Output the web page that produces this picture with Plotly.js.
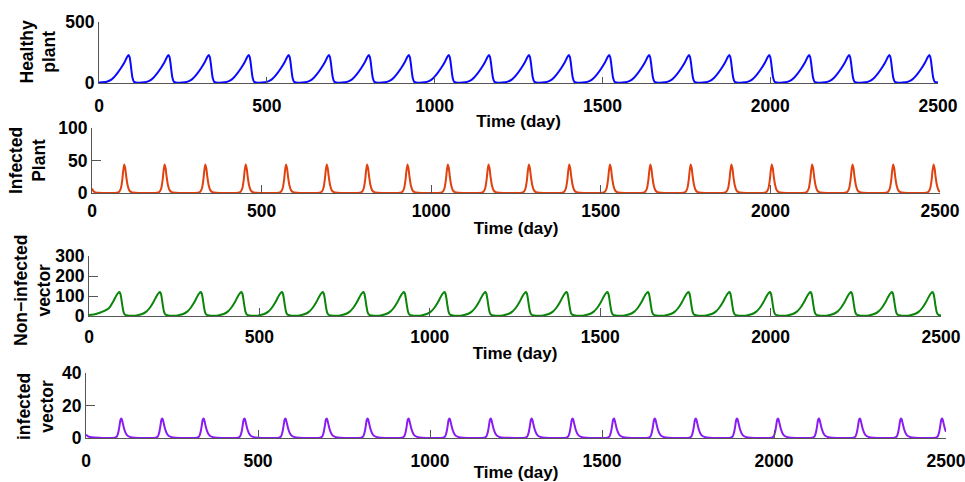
<!DOCTYPE html>
<html>
<head>
<meta charset="utf-8">
<script src="https://cdn.plot.ly/plotly-3.0.1.min.js"></script>
<style>html,body{margin:0;padding:0;background:#fff;}#chart{width:965px;height:482px;}</style>
</head>
<body>
<div id="chart"></div>
<script>
// ---- Data ----
const xTicks = [0, 500, 1000, 1500, 2000, 2500];
const yTicksHealthy = [0, 500];
const yTicksInfPlant = [0, 50, 100];
const yTicksNonInfVec = [0, 100, 200, 300];
const yTicksInfVec = [0, 20, 40];

const healthyT = [
0,23,38,53,66,76,83,88,91,94,97,100,104,113,
127,142,157,172,185,195,202,207,210,213,216,219,223,232,
247,262,277,292,305,315,322,327,330,333,336,339,343,352,
366,381,396,411,424,434,441,446,449,452,455,458,462,471,
485,500,515,530,543,553,560,565,568,571,574,577,581,590,
605,620,635,650,663,673,680,685,688,691,694,697,701,710,
724,739,754,769,782,792,799,804,807,810,813,816,820,829,
843,858,873,888,901,911,918,923,926,929,932,935,939,948,
962,977,992,1007,1020,1030,1037,1042,1045,1048,1051,1054,1058,1067,
1082,1097,1112,1127,1140,1150,1157,1162,1165,1168,1171,1174,1178,1187,
1201,1216,1231,1246,1259,1269,1276,1281,1284,1287,1290,1293,1297,1306,
1320,1335,1350,1365,1378,1388,1395,1400,1403,1406,1409,1412,1416,1425,
1440,1455,1470,1485,1498,1508,1515,1520,1523,1526,1529,1532,1536,1545,
1559,1574,1589,1604,1617,1627,1634,1639,1642,1645,1648,1651,1655,1664,
1678,1693,1708,1723,1736,1746,1753,1758,1761,1764,1767,1770,1774,1783,
1798,1813,1828,1843,1856,1866,1873,1878,1881,1884,1887,1890,1894,1903,
1917,1932,1947,1962,1975,1985,1992,1997,2000,2003,2006,2009,2013,2022,
2036,2051,2066,2081,2094,2104,2111,2116,2119,2122,2125,2128,2132,2141,
2155,2170,2185,2200,2213,2223,2230,2235,2238,2241,2244,2247,2251,2260,
2275,2290,2305,2320,2333,2343,2350,2355,2358,2361,2364,2367,2371,2380,
2394,2409,2424,2439,2452,2462,2469,2474,2477,2480,2483,2486,2490,2500
];
const healthyY = [
5,10,30,75,125,170,210,230,215,165,95,40,10,3,
4,9,30,75,125,170,210,230,215,165,95,40,10,3,
4,9,30,75,125,170,210,230,215,165,95,40,10,3,
4,9,30,75,125,170,210,230,215,165,95,40,10,3,
4,9,30,75,125,170,210,230,215,165,95,40,10,3,
4,9,30,75,125,170,210,230,215,165,95,40,10,3,
4,9,30,75,125,170,210,230,215,165,95,40,10,3,
4,9,30,75,125,170,210,230,215,165,95,40,10,3,
4,9,30,75,125,170,210,230,215,165,95,40,10,3,
4,9,30,75,125,170,210,230,215,165,95,40,10,3,
4,9,30,75,125,170,210,230,215,165,95,40,10,3,
4,9,30,75,125,170,210,230,215,165,95,40,10,3,
4,9,30,75,125,170,210,230,215,165,95,40,10,3,
4,9,30,75,125,170,210,230,215,165,95,40,10,3,
4,9,30,75,125,170,210,230,215,165,95,40,10,3,
4,9,30,75,125,170,210,230,215,165,95,40,10,3,
4,9,30,75,125,170,210,230,215,165,95,40,10,3,
4,9,30,75,125,170,210,230,215,165,95,40,10,3,
4,9,30,75,125,170,210,230,215,165,95,40,10,3,
4,9,30,75,125,170,210,230,215,165,95,40,10,3,
4,9,30,75,125,170,210,230,215,165,95,40,10,3
];

const infPlantT = [
0,4,10,20,
73,80,85,89,92,95,98,101,105,110,116,127,
192,199,204,208,211,214,217,220,224,229,235,246,
312,319,324,328,331,334,337,340,344,349,355,366,
431,438,443,447,450,453,456,459,463,468,474,485,
550,557,562,566,569,572,575,578,582,587,593,604,
670,677,682,686,689,692,695,698,702,707,713,724,
789,796,801,805,808,811,814,817,821,826,832,843,
908,915,920,924,927,930,933,936,940,945,951,962,
1027,1034,1039,1043,1046,1049,1052,1055,1059,1064,1070,1081,
1147,1154,1159,1163,1166,1169,1172,1175,1179,1184,1190,1201,
1266,1273,1278,1282,1285,1288,1291,1294,1298,1303,1309,1320,
1385,1392,1397,1401,1404,1407,1410,1413,1417,1422,1428,1439,
1505,1512,1517,1521,1524,1527,1530,1533,1537,1542,1548,1559,
1624,1631,1636,1640,1643,1646,1649,1652,1656,1661,1667,1678,
1743,1750,1755,1759,1762,1765,1768,1771,1775,1780,1786,1797,
1863,1870,1875,1879,1882,1885,1888,1891,1895,1900,1906,1917,
1982,1989,1994,1998,2001,2004,2007,2010,2014,2019,2025,2036,
2101,2108,2113,2117,2120,2123,2126,2129,2133,2138,2144,2155,
2220,2227,2232,2236,2239,2242,2245,2248,2252,2257,2263,2274,
2340,2347,2352,2356,2359,2362,2365,2368,2372,2377,2383,2394,
2459,2466,2471,2475,2478,2481,2484,2487,2491,2496,2500
];
const infPlantY = [
7,3,1,0.3,
0.3,2,7,19,34,44,38,25,12,4,1.2,0.3,
0.3,2,7,19,34,44,38,25,12,4,1.2,0.3,
0.3,2,7,19,34,44,38,25,12,4,1.2,0.3,
0.3,2,7,19,34,44,38,25,12,4,1.2,0.3,
0.3,2,7,19,34,44,38,25,12,4,1.2,0.3,
0.3,2,7,19,34,44,38,25,12,4,1.2,0.3,
0.3,2,7,19,34,44,38,25,12,4,1.2,0.3,
0.3,2,7,19,34,44,38,25,12,4,1.2,0.3,
0.3,2,7,19,34,44,38,25,12,4,1.2,0.3,
0.3,2,7,19,34,44,38,25,12,4,1.2,0.3,
0.3,2,7,19,34,44,38,25,12,4,1.2,0.3,
0.3,2,7,19,34,44,38,25,12,4,1.2,0.3,
0.3,2,7,19,34,44,38,25,12,4,1.2,0.3,
0.3,2,7,19,34,44,38,25,12,4,1.2,0.3,
0.3,2,7,19,34,44,38,25,12,4,1.2,0.3,
0.3,2,7,19,34,44,38,25,12,4,1.2,0.3,
0.3,2,7,19,34,44,38,25,12,4,1.2,0.3,
0.3,2,7,19,34,44,38,25,12,4,1.2,0.3,
0.3,2,7,19,34,44,38,25,12,4,1.2,0.3,
0.3,2,7,19,34,44,38,25,12,4,1.2,0.3,
0.3,2,7,19,34,44,38,25,12,4,1.5
];

const nonInfVecT = [
0,20,40,59,69,77,83,89,92,95,98,101,105,114,
128,143,156,168,178,188,196,202,208,211,214,217,220,224,233,
248,263,276,288,298,308,316,322,328,331,334,337,340,344,353,
367,382,395,407,417,427,435,441,447,450,453,456,459,463,472,
486,501,514,526,536,546,554,560,566,569,572,575,578,582,591,
606,621,634,646,656,666,674,680,686,689,692,695,698,702,711,
725,740,753,765,775,785,793,799,805,808,811,814,817,821,830,
844,859,872,884,894,904,912,918,924,927,930,933,936,940,949,
963,978,991,1003,1013,1023,1031,1037,1043,1046,1049,1052,1055,1059,1068,
1083,1098,1111,1123,1133,1143,1151,1157,1163,1166,1169,1172,1175,1179,1188,
1202,1217,1230,1242,1252,1262,1270,1276,1282,1285,1288,1291,1294,1298,1307,
1321,1336,1349,1361,1371,1381,1389,1395,1401,1404,1407,1410,1413,1417,1426,
1441,1456,1469,1481,1491,1501,1509,1515,1521,1524,1527,1530,1533,1537,1546,
1560,1575,1588,1600,1610,1620,1628,1634,1640,1643,1646,1649,1652,1656,1665,
1679,1694,1707,1719,1729,1739,1747,1753,1759,1762,1765,1768,1771,1775,1784,
1799,1814,1827,1839,1849,1859,1867,1873,1879,1882,1885,1888,1891,1895,1904,
1918,1933,1946,1958,1968,1978,1986,1992,1998,2001,2004,2007,2010,2014,2023,
2037,2052,2065,2077,2087,2097,2105,2111,2117,2120,2123,2126,2129,2133,2142,
2156,2171,2184,2196,2206,2216,2224,2230,2236,2239,2242,2245,2248,2252,2261,
2276,2291,2304,2316,2326,2336,2344,2350,2356,2359,2362,2365,2368,2372,2381,
2395,2410,2423,2435,2445,2455,2463,2469,2475,2478,2481,2484,2487,2491,2500
];
const nonInfVecY = [
5,10,22,40,66,92,110,120,112,85,50,22,7,2,
1,4,10,22,40,66,92,110,120,112,85,50,22,7,2,
1,4,10,22,40,66,92,110,120,112,85,50,22,7,2,
1,4,10,22,40,66,92,110,120,112,85,50,22,7,2,
1,4,10,22,40,66,92,110,120,112,85,50,22,7,2,
1,4,10,22,40,66,92,110,120,112,85,50,22,7,2,
1,4,10,22,40,66,92,110,120,112,85,50,22,7,2,
1,4,10,22,40,66,92,110,120,112,85,50,22,7,2,
1,4,10,22,40,66,92,110,120,112,85,50,22,7,2,
1,4,10,22,40,66,92,110,120,112,85,50,22,7,2,
1,4,10,22,40,66,92,110,120,112,85,50,22,7,2,
1,4,10,22,40,66,92,110,120,112,85,50,22,7,2,
1,4,10,22,40,66,92,110,120,112,85,50,22,7,2,
1,4,10,22,40,66,92,110,120,112,85,50,22,7,2,
1,4,10,22,40,66,92,110,120,112,85,50,22,7,2,
1,4,10,22,40,66,92,110,120,112,85,50,22,7,2,
1,4,10,22,40,66,92,110,120,112,85,50,22,7,2,
1,4,10,22,40,66,92,110,120,112,85,50,22,7,2,
1,4,10,22,40,66,92,110,120,112,85,50,22,7,2,
1,4,10,22,40,66,92,110,120,112,85,50,22,7,2,
1,4,10,22,40,66,92,110,120,112,85,50,22,7,2
];

const infVecT = [
0,5,12,25,
84,90,94,97,100,102,104,107,111,116,122,130,142,
203,209,213,216,219,221,223,226,230,235,241,249,261,
323,329,333,336,339,341,343,346,350,355,361,369,381,
442,448,452,455,458,460,462,465,469,474,480,488,500,
561,567,571,574,577,579,581,584,588,593,599,607,619,
681,687,691,694,697,699,701,704,708,713,719,727,739,
800,806,810,813,816,818,820,823,827,832,838,846,858,
919,925,929,932,935,937,939,942,946,951,957,965,977,
1038,1044,1048,1051,1054,1056,1058,1061,1065,1070,1076,1084,1096,
1158,1164,1168,1171,1174,1176,1178,1181,1185,1190,1196,1204,1216,
1277,1283,1287,1290,1293,1295,1297,1300,1304,1309,1315,1323,1335,
1396,1402,1406,1409,1412,1414,1416,1419,1423,1428,1434,1442,1454,
1516,1522,1526,1529,1532,1534,1536,1539,1543,1548,1554,1562,1574,
1635,1641,1645,1648,1651,1653,1655,1658,1662,1667,1673,1681,1693,
1754,1760,1764,1767,1770,1772,1774,1777,1781,1786,1792,1800,1812,
1874,1880,1884,1887,1890,1892,1894,1897,1901,1906,1912,1920,1932,
1993,1999,2003,2006,2009,2011,2013,2016,2020,2025,2031,2039,2051,
2112,2118,2122,2125,2128,2130,2132,2135,2139,2144,2150,2158,2170,
2231,2237,2241,2244,2247,2249,2251,2254,2258,2263,2269,2277,2289,
2351,2357,2361,2364,2367,2369,2371,2374,2378,2383,2389,2397,2409,
2470,2476,2480,2483,2486,2488,2490,2493,2497,2500
];
const infVecY = [
2,1.2,0.6,0.3,
0.2,1,3.5,7,11,12,11.5,9,5.5,2.8,1.2,0.5,0.2,
0.2,1,3.5,7,11,12,11.5,9,5.5,2.8,1.2,0.5,0.2,
0.2,1,3.5,7,11,12,11.5,9,5.5,2.8,1.2,0.5,0.2,
0.2,1,3.5,7,11,12,11.5,9,5.5,2.8,1.2,0.5,0.2,
0.2,1,3.5,7,11,12,11.5,9,5.5,2.8,1.2,0.5,0.2,
0.2,1,3.5,7,11,12,11.5,9,5.5,2.8,1.2,0.5,0.2,
0.2,1,3.5,7,11,12,11.5,9,5.5,2.8,1.2,0.5,0.2,
0.2,1,3.5,7,11,12,11.5,9,5.5,2.8,1.2,0.5,0.2,
0.2,1,3.5,7,11,12,11.5,9,5.5,2.8,1.2,0.5,0.2,
0.2,1,3.5,7,11,12,11.5,9,5.5,2.8,1.2,0.5,0.2,
0.2,1,3.5,7,11,12,11.5,9,5.5,2.8,1.2,0.5,0.2,
0.2,1,3.5,7,11,12,11.5,9,5.5,2.8,1.2,0.5,0.2,
0.2,1,3.5,7,11,12,11.5,9,5.5,2.8,1.2,0.5,0.2,
0.2,1,3.5,7,11,12,11.5,9,5.5,2.8,1.2,0.5,0.2,
0.2,1,3.5,7,11,12,11.5,9,5.5,2.8,1.2,0.5,0.2,
0.2,1,3.5,7,11,12,11.5,9,5.5,2.8,1.2,0.5,0.2,
0.2,1,3.5,7,11,12,11.5,9,5.5,2.8,1.2,0.5,0.2,
0.2,1,3.5,7,11,12,11.5,9,5.5,2.8,1.2,0.5,0.2,
0.2,1,3.5,7,11,12,11.5,9,5.5,2.8,1.2,0.5,0.2,
0.2,1,3.5,7,11,12,11.5,9,5.5,2.8,1.2,0.5,0.2,
0.2,1,3.5,7,11,12,11.5,9,5.5,3.8
];

const yTitles = ['Healthy<br>plant', 'Infected<br>Plant', 'Non\u2212infected<br>vector', 'infected<br>vector'];
const xTitle = 'Time (day)';

// ---- Chart ----
const W = 965, H = 482;
const FONT = 'Liberation Sans, Arial, Helvetica, sans-serif';
const AX = '#555555';

function xd(a, b) { return [a / W, b / W]; }
function yd(top, bottom) { return [1 - bottom / H, 1 - top / H]; }

const traces = [
  {x: healthyT, y: healthyY, xaxis: 'x', yaxis: 'y', line: {color: '#0a0aff', width: 2, shape: 'spline', smoothing: 0.6}},
  {x: infPlantT, y: infPlantY, xaxis: 'x2', yaxis: 'y2', line: {color: '#e0420f', width: 2, shape: 'spline', smoothing: 0.6}},
  {x: nonInfVecT, y: nonInfVecY, xaxis: 'x3', yaxis: 'y3', line: {color: '#0a850a', width: 2, shape: 'spline', smoothing: 0.6}},
  {x: infVecT, y: infVecY, xaxis: 'x4', yaxis: 'y4', line: {color: '#8a1cf2', width: 2, shape: 'spline', smoothing: 0.6}}
].map(t => Object.assign({type: 'scatter', mode: 'lines', hoverinfo: 'skip', showlegend: false}, t));

function xAxis(dom, anchor, tlen, lblOff, tstand) {
  return {
    domain: dom, anchor: anchor, range: [0, 2500], tickvals: xTicks,
    showgrid: false, zeroline: false, showline: true, linecolor: AX, linewidth: 1,
    ticks: 'inside', ticklen: tlen, tickcolor: AX, tickwidth: 1,
    ticklabelstandoff: lblOff, ticklabeloverflow: 'allow',
    tickfont: {family: FONT, size: 17.5, color: '#000', weight: 'bold'},
    title: {text: xTitle, font: {family: FONT, size: 17, color: '#000', weight: 'bold'}, standoff: tstand},
    automargin: false, fixedrange: true
  };
}
function yAxis(dom, anchor, rng, tv) {
  return {
    domain: dom, anchor: anchor, range: rng, tickvals: tv,
    showgrid: false, zeroline: false, showline: true, linecolor: AX, linewidth: 1,
    ticks: 'inside', ticklen: 9, tickcolor: AX, tickwidth: 1, ticklabelstandoff: 0,
    ticklabeloverflow: 'allow',
    tickfont: {family: FONT, size: 17.5, color: '#000', weight: 'bold'},
    automargin: false, fixedrange: true
  };
}

const titlePos = [[38, 52.5], [28, 161], [32, 291], [35, 407]];
const annotations = yTitles.map((t, i) => ({
  text: t, xref: 'paper', yref: 'paper', x: titlePos[i][0] / W, y: 1 - titlePos[i][1] / H,
  xanchor: 'center', yanchor: 'middle', textangle: -90, showarrow: false,
  font: {family: FONT, size: 17.5, color: '#000', weight: 'bold'}
}));

const layout = {
  width: W, height: H, margin: {l: 0, r: 0, t: 0, b: 0},
  paper_bgcolor: '#fff', plot_bgcolor: '#fff', showlegend: false,
  xaxis: xAxis(xd(99, 938), 'y', 6, 7, 0),
  yaxis: yAxis(yd(22, 83), 'x', [0, 500], yTicksHealthy),
  xaxis2: xAxis(xd(92, 940), 'y2', 8, 2, 2),
  yaxis2: yAxis(yd(128, 193), 'x2', [0, 100], yTicksInfPlant),
  xaxis3: xAxis(xd(89, 941), 'y3', 8, 5, 1),
  yaxis3: yAxis(yd(256, 316), 'x3', [0, 300], yTicksNonInfVec),
  xaxis4: xAxis(xd(86, 946), 'y4', 8, 7, 6),
  yaxis4: yAxis(yd(373, 438), 'x4', [0, 40], yTicksInfVec),
  annotations: annotations
};

Plotly.newPlot('chart', traces, layout, {staticPlot: true, displayModeBar: false});
</script>
</body>
</html>
